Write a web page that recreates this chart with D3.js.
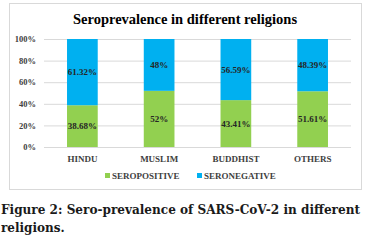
<!DOCTYPE html>
<html>
<head>
<meta charset="utf-8">
<script src="https://cdn.jsdelivr.net/npm/d3@7"></script>
<style>
  body { margin: 0; background: #fff; }
  svg { font-family: "Liberation Serif", "Times New Roman", serif; }
</style>
</head>
<body>
<div id="chart"></div>
<script>
const religions = ["HINDU", "MUSLIM", "BUDDHIST", "OTHERS"];
const seropositive = [38.68, 52, 43.41, 51.61];
const seronegative = [61.32, 48, 56.59, 48.39];
const posLabels = ["38.68%", "52%", "43.41%", "51.61%"];
const negLabels = ["61.32%", "48%", "56.59%", "48.39%"];
const yTicks = [0, 20, 40, 60, 80, 100];
const seriesNames = ["SEROPOSITIVE", "SERONEGATIVE"];

const width = 367, height = 242;
const green = "#92D050", blue = "#00B0F0";

const svg = d3.select("#chart").append("svg")
    .attr("width", width)
    .attr("height", height);

// chart frame
svg.append("rect")
    .attr("x", 9.5).attr("y", 3.5)
    .attr("width", 352).attr("height", 186)
    .attr("fill", "#fff")
    .attr("stroke", "#d9d9d9");

svg.append("text")
    .attr("x", 185).attr("y", 24)
    .attr("text-anchor", "middle")
    .attr("font-weight", "bold")
    .attr("font-size", 14.5)
    .text("Seroprevalence in different religions");

const x = d3.scaleBand()
    .domain(religions)
    .range([44, 351])
    .paddingInner(0.6)
    .paddingOuter(0.3);

const y = d3.scaleLinear()
    .domain([0, 100])
    .range([147, 39]);

// gridlines
svg.append("g")
    .selectAll("line")
    .data(yTicks)
    .enter()
    .append("line")
    .attr("x1", 44).attr("x2", 351)
    .attr("y1", d => y(d) + 0.5).attr("y2", d => y(d) + 0.5)
    .attr("stroke", "#d9d9d9");

const yAxis = d3.axisLeft(y).tickValues(yTicks).tickSize(0).tickPadding(8).tickFormat(d => d + "%");
svg.append("g")
    .attr("transform", "translate(44,0)")
    .call(yAxis)
    .call(g => g.select(".domain").remove())
    .selectAll("text")
    .attr("font-family", "Liberation Serif")
    .attr("font-weight", "bold")
    .attr("font-size", 8.5)
    .attr("fill", "#404040");

const xAxis = d3.axisBottom(x).tickSize(0).tickPadding(9);
svg.append("g")
    .attr("transform", "translate(0,147)")
    .call(xAxis)
    .call(g => g.select(".domain").remove())
    .selectAll("text")
    .attr("font-family", "Liberation Serif")
    .attr("font-weight", "bold")
    .attr("font-size", 9)
    .attr("fill", "#404040");

// stacked bars
const rows = religions.map((r, i) => ({ r, pos: seropositive[i], neg: seronegative[i], pl: posLabels[i], nl: negLabels[i] }));

svg.selectAll("rect.pos")
    .data(rows)
    .enter()
    .append("rect")
    .attr("class", "pos")
    .attr("x", d => x(d.r))
    .attr("width", x.bandwidth())
    .attr("y", d => y(d.pos))
    .attr("height", d => y(0) - y(d.pos))
    .attr("fill", green);

svg.selectAll("rect.neg")
    .data(rows)
    .enter()
    .append("rect")
    .attr("class", "neg")
    .attr("x", d => x(d.r))
    .attr("width", x.bandwidth())
    .attr("y", d => y(d.pos + d.neg))
    .attr("height", d => y(d.pos) - y(d.pos + d.neg))
    .attr("fill", blue);

svg.selectAll("text.pl")
    .data(rows)
    .enter()
    .append("text")
    .attr("class", "pl")
    .attr("x", d => x(d.r) + x.bandwidth() / 2)
    .attr("y", d => y(d.pos / 2) + 3)
    .attr("text-anchor", "middle")
    .attr("font-weight", "bold")
    .attr("font-size", 9)
    .attr("fill", "#262626")
    .text(d => d.pl);

svg.selectAll("text.nl")
    .data(rows)
    .enter()
    .append("text")
    .attr("class", "nl")
    .attr("x", d => x(d.r) + x.bandwidth() / 2)
    .attr("y", d => y(d.pos + d.neg / 2) + 3)
    .attr("text-anchor", "middle")
    .attr("font-weight", "bold")
    .attr("font-size", 9)
    .attr("fill", "#262626")
    .text(d => d.nl);

// legend
const legend = svg.append("g").attr("id", "legend");
const legendX = [105, 197];
[green, blue].forEach((c, i) => {
    legend.append("rect").attr("x", legendX[i]).attr("y", 173).attr("width", 5).attr("height", 5).attr("fill", c);
    legend.append("text").attr("x", legendX[i] + 7).attr("y", 179)
        .attr("font-weight", "bold").attr("font-size", 9).attr("fill", "#404040")
        .text(seriesNames[i]);
});

// caption
svg.append("text")
    .attr("x", 1).attr("y", 214)
    .attr("font-family", "DejaVu Serif")
    .attr("font-weight", "bold")
    .attr("font-size", 12)
    .attr("fill", "#1a1a1a")
    .attr("textLength", 359)
    .attr("lengthAdjust", "spacingAndGlyphs")
    .text("Figure 2: Sero-prevalence of SARS-CoV-2 in different");
svg.append("text")
    .attr("x", 1).attr("y", 232)
    .attr("font-family", "DejaVu Serif")
    .attr("font-weight", "bold")
    .attr("font-size", 12)
    .attr("fill", "#1a1a1a")
    .text("religions.");
</script>
</body>
</html>
